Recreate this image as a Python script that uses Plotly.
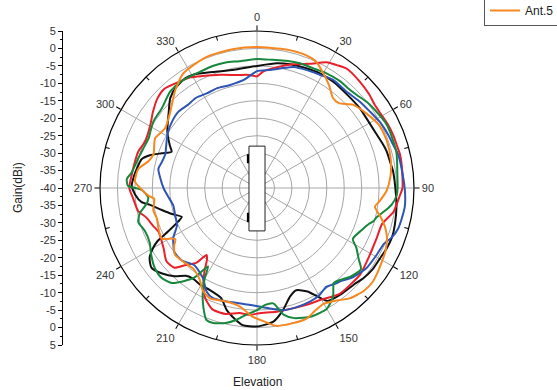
import plotly.graph_objects as go

# ---------------- data (angle in degrees, gain in dBi) ----------------
theta_black = [0, 9, 15, 22, 29, 36, 44, 52, 59, 65, 70, 74, 79, 83, 93, 97, 105, 110, 115, 120,
               125, 130, 135, 142, 148, 151, 154, 159, 163, 168, 173, 180, 186, 190, 194, 198, 205,
               210, 215, 219, 223, 228, 233, 237, 240, 242, 244, 247, 249, 253, 257, 261, 263, 267,
               271, 275, 279, 284, 287, 290, 293, 296, 302, 311, 316, 321, 327, 331, 339, 349]
gain_black = [-5, -3.8, -3.3, -2.9, -2.5, -2.5, -2.8, -2.7, -2.8, -2.5, -1.9, -1.4, -1.1, -0.7, -0.1,
              0.3, 0.9, 1.2, 1.0, 0.6, 0.5, 0, -0.8, -1.2, -1.8, -4.5, -7, -8.6, -7.5, -4.2, -1.4,
              -0.3, -0.5, -2.1, -4, -6.8, -7.8, -7.8, -8.2, -7.6, -5.4, -3.4, -2.1, -3.3, -5.6, -7.8,
              -11.7, -15.5, -16.9, -14.5, -12, -9, -6.7, -5, -4.1, -4.5, -5.1, -5.9, -7.9, -10.9,
              -13.4, -12.2, -9.7, -6.5, -4.2, -3, -2.4, -2.8, -4.4, -5.5]

theta_red = [0, 3, 9, 16, 23, 29, 33, 37, 44, 50, 55, 60, 64, 69, 73, 77, 81, 90, 93, 100, 106, 113,
             118, 124, 130, 136, 142, 151, 157, 163, 171, 179, 183, 188, 194, 200, 205, 208, 212, 215,
             217, 219, 223, 226, 231, 237, 246, 250, 255, 259, 265, 270, 276, 282, 287, 293, 301, 306,
             312, 317, 324, 329, 334, 342, 350, 356]
gain_red = [-8, -6.6, -5, -3.1, -1.3, 1.2, 2.0, 2.8, 2.4, 1.9, 1.3, 1.4, 1.7, 1.9, 1.9, 2.1, 2.0, 1.7,
            1.0, -0.3, -2.7, -2.8, -2.6, -2.1, -1.4, -1.5, -1.5, -3.2, -3.6, -4, -4.1, -4.1, -3.6,
            -3.8, -2.8, -2.9, -5, -7.4, -11.5, -15, -16, -12.5, -9.7, -7.1, -6.6, -8.1, -9.1, -8.3,
            -7.2, -5.3, -4.4, -3.4, -3.9, -4.2, -4.4, -5.3, -4.4, -3.1, -1.6, -1.1, -2.3, -3, -4.3,
            -5.9, -7.1, -7.5]

theta_blue = [0, 6, 11, 17, 23, 29, 35, 43, 50, 56, 62, 68, 72, 77, 82, 91, 97, 102, 106, 110, 114,
              119, 126, 133, 138, 140, 145, 150, 155, 163, 168, 174, 179, 183, 188, 195, 202, 206, 211,
              219, 226, 232, 239, 245, 252, 258, 265, 270, 276, 281, 285, 290, 297, 302, 308, 314, 320,
              326, 332, 338, 345, 353]
gain_blue = [-6.5, -6, -5.1, -3.7, -3.3, -2.9, -2.1, -2.3, -1.5, -0.9, 0, 0.6, 0.9, 1.6, 1.8, 2.4, 2.7,
             2.4, 2.1, 1.2, -0.3, -0.7, -1.1, -2.5, -4.1, -4.4, -5.4, -4.4, -4.1, -4, -4.2, -5.3, -6,
             -6.4, -6.6, -6.3, -6, -7, -9.9, -11.5, -10.1, -10, -12, -14.7, -15.3, -15.5, -14.3,
             -13.2, -12.1, -11.2, -11.7, -12, -10.9, -9.9, -9.1, -8.6, -9, -8.8, -9.3, -9.2, -9.5,
             -8.8]

theta_green = [0, 7, 13, 19, 25, 31, 38, 42, 47, 52, 58, 63, 67, 71, 75, 79, 83, 90, 93, 97, 100, 104,
               106, 108, 112, 118, 121, 125, 128, 133, 138, 141, 145, 150, 157, 164, 168, 172, 176, 180,
               185, 189, 193, 198, 201, 204, 207, 210, 212, 215, 218, 222, 227, 232, 238, 243, 249, 254,
               258, 262, 265, 269, 271, 274, 277, 284, 289, 295, 298, 303, 310, 318, 325, 334, 340, 346,
               352]
gain_green = [-3, -3, -2.6, -2.2, -2.1, -1.6, -1.2, -1.3, -0.9, 0, 0.7, 1.3, 1.4, 1.3, 1.3, 0.9, 0.5,
              0.3, 0.1, -1.1, -2.7, -4.8, -5.3, -6.4, -7.7, -8.9, -6.8, -4.4, -2.2, -3, -4.5, -5, -2,
              0, 0, -1.2, -2.8, -6.6, -6.4, -5, -3.5, -1.7, -0.3, 0.7, 0.5, -2.3, -5.7, -10, -13.5,
              -8.6, -6.2, -3.4, -2.4, -2.8, -4.2, -5.5, -5.6, -4.6, -5.7, -8.1, -8.7, -7, -3, -2.6,
              -3.8, -4.9, -5.5, -5.8, -5.4, -4.7, -4.4, -2.8, -2.5, -2.9, -2.8, -2.9, -3.3]

theta_orange = [0, 12, 20, 25, 30, 35, 40, 44, 49, 56, 63, 70, 78, 85, 91, 96, 99, 103, 107, 111, 116,
                120, 125, 129, 134, 140, 145, 150, 155, 159, 165, 172, 177, 182, 188, 195, 203, 208,
                212, 218, 225, 231, 235, 238, 242, 248, 253, 258, 264, 266, 270, 273, 279, 284, 288,
                296, 303, 311, 320, 327, 333, 340, 350]
gain_orange = [0.4, 0.6, 0.6, 0, -2, -4, -6.2, -6.2, -3.6, -2, -0.6, -0.4, -0.8, -1.6, -2.8, -4.6,
               -5.8, -3.7, -1.6, -0.1, 1, 1.5, 2.2, 2.7, 2.5, 1.3, -0.6, -1.7, -1, 0, 0.1, -0.1, -1.7,
               -3.1, -5.6, -6.3, -5.6, -6.8, -9, -10.5, -10.1, -9.7, -11, -12.4, -9.1, -9.5, -10,
               -9.6, -10.4, -8.8, -6.5, -5, -5.5, -8, -8.8, -7.5, -8.6, -7, -3.5, -1, -0.3, 0.3, 0.4]

series_names = ["Ant.1", "Ant.2", "Ant.3", "Ant.4", "Ant.5"]
series_colors = ["#111111", "#e8202a", "#2f55b4", "#16873c", "#f7871f"]
series_theta = [theta_black, theta_red, theta_blue, theta_green, theta_orange]
series_gain = [gain_black, gain_red, gain_blue, gain_green, gain_orange]

angle_ticks = list(range(0, 360, 30))
angle_minor = list(range(15, 360, 30))
gain_min, gain_max = -40, 5
grid_vals = list(range(-35, 5, 5))
side_vals = list(range(-45, 50, 5))           # left scale positions (distance from centre)
side_text = [str(abs(v) - 40) for v in side_vals]

# antenna sketch in the centre (same units as the gain scale)
ant_body = dict(x0=-2.3, x1=2.3, y0=-12.3, y1=12.0)
ant_marks = [dict(x0=-2.9, x1=-2.3, y0=7.1, y1=9.7), dict(x0=-2.9, x1=-2.3, y0=-9.8, y1=-7.1)]

# ---------------- figure ----------------
W, H = 557, 390
FONT = "Arial, 'Liberation Sans', sans-serif"
dom_x = [100 / W, 414 / W]
dom_y = [1 - 345 / H, 1 - 31 / H]

fig = go.Figure()
for name, col, th, g in zip(series_names, series_colors, series_theta, series_gain):
    fig.add_trace(go.Scatterpolar(
        theta=th + [th[0] + 360], r=g + [g[0]], mode="lines", name=name,
        line=dict(color=col, width=2, shape="spline", smoothing=0.6),
        showlegend=(name == "Ant.5"), subplot="polar"))

fig.add_trace(go.Scatterpolar(r=[gain_min], theta=[0], mode="markers", marker=dict(opacity=0),
                              showlegend=False, hoverinfo="skip", subplot="polar2"))
fig.add_trace(go.Scatter(x=[0], y=[0], mode="markers", marker=dict(opacity=0),
                         showlegend=False, hoverinfo="skip", xaxis="x", yaxis="y"))

fig.update_layout(
    width=W, height=H,
    margin=dict(l=0, r=0, t=0, b=0, autoexpand=False),
    paper_bgcolor="white", plot_bgcolor="rgba(0,0,0,0)",
    font=dict(family=FONT, size=11, color="#222"),
    polar=dict(
        domain=dict(x=dom_x, y=dom_y), bgcolor="white",
        radialaxis=dict(range=[gain_min, gain_max], tickmode="array", tickvals=grid_vals,
                        showticklabels=False, ticks="", showline=False,
                        gridcolor="#a6a6a6", gridwidth=1),
        angularaxis=dict(rotation=90, direction="clockwise", tickmode="array",
                         tickvals=angle_ticks, ticktext=[str(a) for a in angle_ticks],
                         ticks="outside", ticklen=5, tickcolor="black",
                         showline=True, linecolor="black", linewidth=1.2,
                         gridcolor="#a6a6a6", gridwidth=1,
                         tickfont=dict(size=11, color="#333"))),
    polar2=dict(
        domain=dict(x=dom_x, y=dom_y), bgcolor="rgba(0,0,0,0)",
        radialaxis=dict(range=[gain_min, gain_max], visible=False),
        angularaxis=dict(rotation=90, direction="clockwise", tickmode="array",
                         tickvals=angle_minor, ticks="inside", ticklen=4, tickcolor="black",
                         showticklabels=False, showgrid=False, showline=False)),
    xaxis=dict(domain=dom_x, range=[-45, 45], visible=False, fixedrange=True),
    yaxis=dict(domain=dom_y, range=[-45, 45], anchor="free", position=62 / W,
               tickmode="array", tickvals=side_vals, ticktext=side_text,
               ticks="outside", ticklen=4, tickcolor="black",
               showline=True, linecolor="black", linewidth=1,
               showgrid=False, zeroline=False, fixedrange=True,
               tickfont=dict(size=11, color="#333"),
               minor=dict(tickmode="linear", tick0=-45, dtick=2.5, ticks="outside",
                          ticklen=2, tickcolor="black", showgrid=False)),
    legend=dict(x=484 / W, xanchor="left", y=1 + 5 / H, yanchor="top", bgcolor="white",
                bordercolor="#555", borderwidth=1, font=dict(size=12, color="#222"),
                tracegroupgap=0),
    annotations=[
        dict(text="Elevation", x=257 / W, y=1 - 382 / H, xref="paper", yref="paper",
             showarrow=False, xanchor="center", yanchor="middle", font=dict(size=12, color="#222")),
        dict(text="Gain(dBi)", x=18 / W, y=1 - 188 / H, xref="paper", yref="paper",
             showarrow=False, xanchor="center", yanchor="middle", textangle=-90,
             font=dict(size=12, color="#222")),
    ],
)

fig.add_shape(type="rect", xref="x", yref="y", layer="above", fillcolor="white",
              line=dict(color="#222", width=1), **ant_body)
for m in ant_marks:
    fig.add_shape(type="rect", xref="x", yref="y", layer="above", fillcolor="black",
                  line=dict(width=0), **m)

fig.write_html("out.html", config={"displayModeBar": False, "staticPlot": True},
               post_script="document.body.style.margin='0';document.body.style.overflow='hidden';")
